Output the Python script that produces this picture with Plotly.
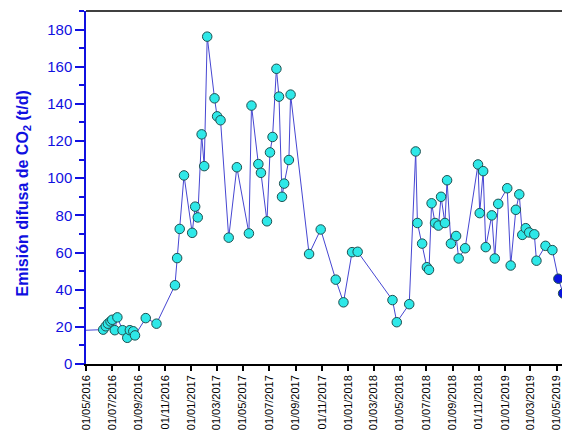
import plotly.graph_objects as go

dates = [
    "2016-04-10",
    "2016-06-10", "2016-06-16", "2016-06-21", "2016-06-27", "2016-07-01", "2016-07-07",
    "2016-07-13", "2016-07-25", "2016-08-05", "2016-08-11", "2016-08-19", "2016-08-23",
    "2016-09-17", "2016-10-12", "2016-11-24", "2016-11-29", "2016-12-05", "2016-12-15",
    "2017-01-03", "2017-01-10", "2017-01-16", "2017-01-25", "2017-01-31", "2017-02-07",
    "2017-02-24", "2017-03-02", "2017-03-10", "2017-03-29", "2017-04-17", "2017-05-15",
    "2017-05-21", "2017-06-06", "2017-06-12", "2017-06-26", "2017-07-03", "2017-07-09",
    "2017-07-18", "2017-07-24", "2017-07-31", "2017-08-05", "2017-08-16", "2017-08-20",
    "2017-10-02", "2017-10-29", "2017-12-03", "2017-12-21", "2018-01-10", "2018-01-23",
    "2018-04-14", "2018-04-24", "2018-05-23", "2018-06-07", "2018-06-11", "2018-06-22",
    "2018-07-03", "2018-07-08", "2018-07-14", "2018-07-22", "2018-07-30", "2018-08-05",
    "2018-08-14", "2018-08-19", "2018-08-28", "2018-09-09", "2018-09-15", "2018-09-30",
    "2018-10-30", "2018-11-03", "2018-11-11", "2018-11-17", "2018-12-01", "2018-12-08",
    "2018-12-16", "2019-01-06", "2019-01-14", "2019-01-26", "2019-02-03", "2019-02-10",
    "2019-02-18", "2019-02-26", "2019-03-10", "2019-03-15", "2019-04-05", "2019-04-21",
    "2019-05-05", "2019-05-16",
]
values = [
    18.0,
    18.5, 20.3, 21.7, 22.9, 23.8, 18.2,
    25.1, 18.2, 14.1, 18.2, 17.6, 15.4,
    24.7, 21.7, 42.4, 57.0, 72.7, 101.5,
    70.6, 84.7, 78.9, 123.6, 106.5, 176.2,
    143.0, 133.3, 131.2, 68.0, 105.9, 70.3,
    139.1, 107.6, 102.9, 76.8, 113.9, 122.2,
    158.9, 143.9, 90.0, 97.1, 109.8, 145.0,
    59.2, 72.4, 45.4, 33.2, 60.2, 60.4,
    34.4, 22.5, 32.2, 114.4, 75.9, 64.8,
    52.1, 50.7, 86.5, 75.9, 74.5, 90.0,
    75.9, 98.9, 64.8, 68.9, 56.8, 62.3,
    107.4, 81.2, 103.8, 62.9, 80.0, 56.8,
    86.2, 94.6, 53.0, 83.0, 91.3, 69.5,
    73.1, 70.8, 69.8, 55.6, 63.6, 61.3,
    45.9, 38.0,
]
n_before = 1  # points before the visible range (only the line reaches into view)
n_recent = 2  # last points shown in dark blue

tick_vals = ["2016-05-01", "2016-07-01", "2016-09-01", "2016-11-01", "2017-01-01",
             "2017-03-01", "2017-05-01", "2017-07-01", "2017-09-01", "2017-11-01",
             "2018-01-01", "2018-03-01", "2018-05-01", "2018-07-01", "2018-09-01",
             "2018-11-01", "2019-01-01", "2019-03-01", "2019-05-01"]
tick_text = ["01/05/2016", "01/07/2016", "01/09/2016", "01/11/2016", "01/01/2017",
             "01/03/2017", "01/05/2017", "01/07/2017", "01/09/2017", "01/11/2017",
             "01/01/2018", "01/03/2018", "01/05/2018", "01/07/2018", "01/09/2018",
             "01/11/2018", "01/01/2019", "01/03/2019", "01/05/2019"]

BLUE = "#1010e0"
vis_dates = dates[n_before:]
vis_values = values[n_before:]
colors = ["#2ee8e8"] * (len(vis_values) - n_recent) + ["#0a14e0"] * n_recent

fig = go.Figure()
fig.add_trace(go.Scatter(
    x=dates, y=values, mode="lines",
    line=dict(color="#4646d2", width=1),
    showlegend=False, hoverinfo="skip",
))
fig.add_trace(go.Scatter(
    x=vis_dates, y=vis_values, mode="markers",
    marker=dict(size=9.5, color=colors, line=dict(color="#1f5050", width=1)),
    showlegend=False, cliponaxis=False,
))

# page body has an 8px margin; size figure so the plot lands where the reference has it
fig.update_layout(
    width=562, height=422,
    margin=dict(l=78, r=0, t=3, b=60),
    paper_bgcolor="white", plot_bgcolor="white",
    font=dict(family="Liberation Sans, Arial, sans-serif"),
    xaxis=dict(
        range=["2016-05-01", "2019-06-01"],
        tickmode="array", tickvals=tick_vals, ticktext=tick_text,
        tickangle=-90, tickfont=dict(size=11, color="black"),
        ticks="outside", ticklen=5, tickcolor="black", tickwidth=1.5,
        showline=True, linecolor="black", linewidth=1.5,
        showgrid=False, zeroline=False,
    ),
    yaxis=dict(
        range=[0, 190],
        tickmode="array", tickvals=[0, 20, 40, 60, 80, 100, 120, 140, 160, 180],
        tickfont=dict(size=15, color=BLUE),
        ticks="outside", ticklen=9, tickcolor=BLUE, tickwidth=1.5,
        minor=dict(tickvals=[10, 30, 50, 70, 90, 110, 130, 150, 170, 190],
                   ticks="outside", ticklen=5, tickcolor=BLUE),
        showline=True, linecolor=BLUE, linewidth=1.5,
        showgrid=False, zeroline=False,
    ),
)
fig.add_annotation(
    text="<b>Emisión difusa de CO<sub>2</sub> (t/d)</b>",
    xref="paper", yref="paper", x=0, y=0.5, xanchor="center", yanchor="middle",
    xshift=-63, yshift=-6, textangle=-90, showarrow=False,
    font=dict(size=16, color=BLUE),
)
# top border line (black)
fig.add_shape(type="line", xref="paper", yref="paper", x0=0, x1=1, y0=1, y1=1,
              line=dict(color="black", width=1.5))

fig.write_html("out.html")
